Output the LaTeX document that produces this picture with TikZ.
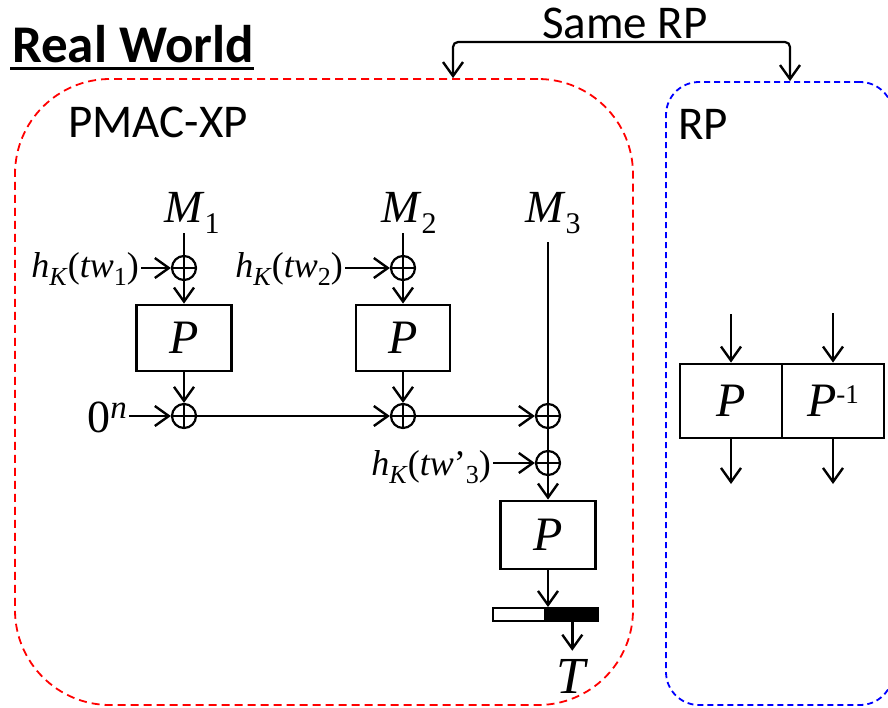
\documentclass[tikz,border=0pt]{standalone}
\usepackage{fontspec}
\setmainfont{Liberation Serif}
\newfontfamily\calibri{Carlito}
\usetikzlibrary{arrows.meta}
\newcommand\fs[1]{\fontsize{#1}{#1}\selectfont}
\begin{document}
\begin{tikzpicture}[x=1pt,y=-1pt,
  tip/.tip={Straight Barb[length=14pt,width=20pt,line width=2.4pt]},
  arr/.style={line width=2.4pt,-tip},
  wire/.style={line width=2.4pt},
  pbox/.style={draw,line width=2.8pt,inner sep=0,minimum width=95pt,minimum height=66pt,font=\fs{48}\itshape},
  xor/.style={circle,draw,line width=2.2pt,minimum size=24pt,inner sep=0,
    path picture={\draw[line width=2.2pt]
      (path picture bounding box.north)--(path picture bounding box.south)
      (path picture bounding box.west)--(path picture bounding box.east);}},
  lbl/.style={inner xsep=2pt,inner ysep=0pt},
  sans/.style={lbl,font=\calibri\fs{47}},
  world/.style={draw,line width=1.8pt,inner sep=0},
]
\useasboundingbox (0,0) rectangle (888,707);

% the two worlds
\node[world,red,dash pattern=on 8pt off 5pt,rounded corners=95pt,
      minimum width=618pt,minimum height=626pt] (pmac) at (324,392) {};
\node[world,blue,dash pattern=on 6pt off 4pt,rounded corners=33pt,
      minimum width=227pt,minimum height=623pt] (rp) at (779.5,393.5) {};

% titles
\node[lbl,inner xsep=0pt,anchor=base west,font=\calibri\bfseries\fs{53}] (rw) at (12,62) {Real World};
\draw[line width=3pt] ([yshift=-6pt,xshift=-2pt]rw.base west) -- ([yshift=-6pt]rw.base east);
\node[sans,anchor=base] (srp) at (625,38) {Same RP};
\node[sans,anchor=base west] (pmaclbl) at (66,137) {PMAC-XP};
\node[sans,anchor=base west] (rplbl) at (676,139) {RP};

% "Same RP" bracket
\coordinate (bl) at (453,42);
\coordinate (br) at (790,42);
\draw[line width=2.2pt,tip-tip,rounded corners=5pt]
  (bl |- pmac.north) -- (bl) -- (br) -- (br |- rp.north);

% message blocks
\node[lbl,anchor=base west,font=\fs{46}] (m1) at (162,222) {\textit{M}\raisebox{-11pt}{\fs{30}1}};
\node[lbl,anchor=base west,font=\fs{46}] (m2) at (379,222) {\textit{M}\raisebox{-11pt}{\fs{30}2}};
\node[lbl,anchor=base west,font=\fs{46}] (m3) at (523,222) {\textit{M}\raisebox{-11pt}{\fs{30}3}};

% tweak masks
\node[lbl,anchor=base east,font=\fs{36}] (h1) at (141,277)
  {\textit{h}\raisebox{-8pt}{\fs{26}\textit{K}}(\textit{tw}\raisebox{-8pt}{\fs{26}1})};
\node[lbl,anchor=base east,font=\fs{36}] (h2) at (345,277)
  {\textit{h}\raisebox{-8pt}{\fs{26}\textit{K}}(\textit{tw}\raisebox{-8pt}{\fs{26}2})};
\node[lbl,anchor=base east,font=\fs{36}] (h3) at (493,475)
  {\textit{h}\raisebox{-8pt}{\fs{26}\textit{K}}(\textit{tw}’\raisebox{-8pt}{\fs{26}3})};
\node[lbl,anchor=base east,font=\fs{46}] (zero) at (129,432)
  {0\raisebox{14pt}{\fs{33}\textit{n}}};

% xor gates
\node[xor] (a1) at (184,268) {};
\node[xor] (a2) at (403,268) {};
\node[xor] (s1) at (184,416) {};
\node[xor] (s2) at (403,416) {};
\node[xor] (s3) at (548,416) {};
\node[xor] (t3) at (548,463) {};

% permutation calls
\node[pbox] (p1) at (184,338) {P};
\node[pbox,minimum width=94pt] (p2) at (403,338) {P};
\node[pbox,minimum height=68pt] (p3) at (548,535) {P};

% truncation bar and tag
\node[draw,line width=1.6pt,fill=white,inner sep=0,minimum width=52pt,minimum height=13pt,
      anchor=north east] (barw) at (546,607) {};
\node[draw,line width=1.6pt,fill=black,inner sep=0,minimum width=51pt,minimum height=13pt,
      anchor=north west] (barb) at (546,607) {};
\node[lbl,anchor=base,font=\fs{52}\itshape] (tag) at (571,693) {T};

% wiring
\draw[wire] (a1 |- m1.south) -- (a1.north);
\draw[wire] (a2 |- m2.south) -- (a2.north);
\draw[arr] (h1.east |- a1) -- (a1.west);
\draw[arr] (h2.east |- a2) -- (a2.west);
\draw[arr] (a1.south) -- (p1.north);
\draw[arr] (a2.south) -- (p2.north);
\draw[arr] (p1.south) -- (s1.north);
\draw[arr] (p2.south) -- (s2.north);
\draw[arr] (zero.east |- s1) -- (s1.west);
\draw[arr] (s1.east) -- (s2.west);
\draw[arr] (s2.east) -- (s3.west);
\draw[wire,shorten <=9pt] (s3 |- m3.south) -- (s3.north);
\draw[wire] (s3.south) -- (t3.north);
\draw[arr] (h3.east |- t3) -- (t3.west);
\draw[arr] (t3.south) -- (p3.north);
\draw[arr] (p3.south) -- (p3.south |- barw.north);
\draw[arr,shorten >=8pt] (barb.south) -- (barb.south |- tag.north);

% random permutation oracle
\node[pbox,minimum width=102pt,minimum height=74pt] (rpp) at (731,401) {P};
\node[pbox,minimum width=102pt,minimum height=74pt] (rpi) at (833,401)
  {P\raisebox{13pt}{\fs{27}\upshape -1}};
\coordinate (i1) at (731,314);
\coordinate (i2) at (833,313);
\coordinate (o1) at (731,484);
\coordinate (o2) at (833,484);
\draw[arr] (i1) -- (rpp.north);
\draw[arr] (i2) -- (rpi.north);
\draw[arr] (rpp.south) -- (o1);
\draw[arr] (rpi.south) -- (o2);
\end{tikzpicture}
\end{document}
